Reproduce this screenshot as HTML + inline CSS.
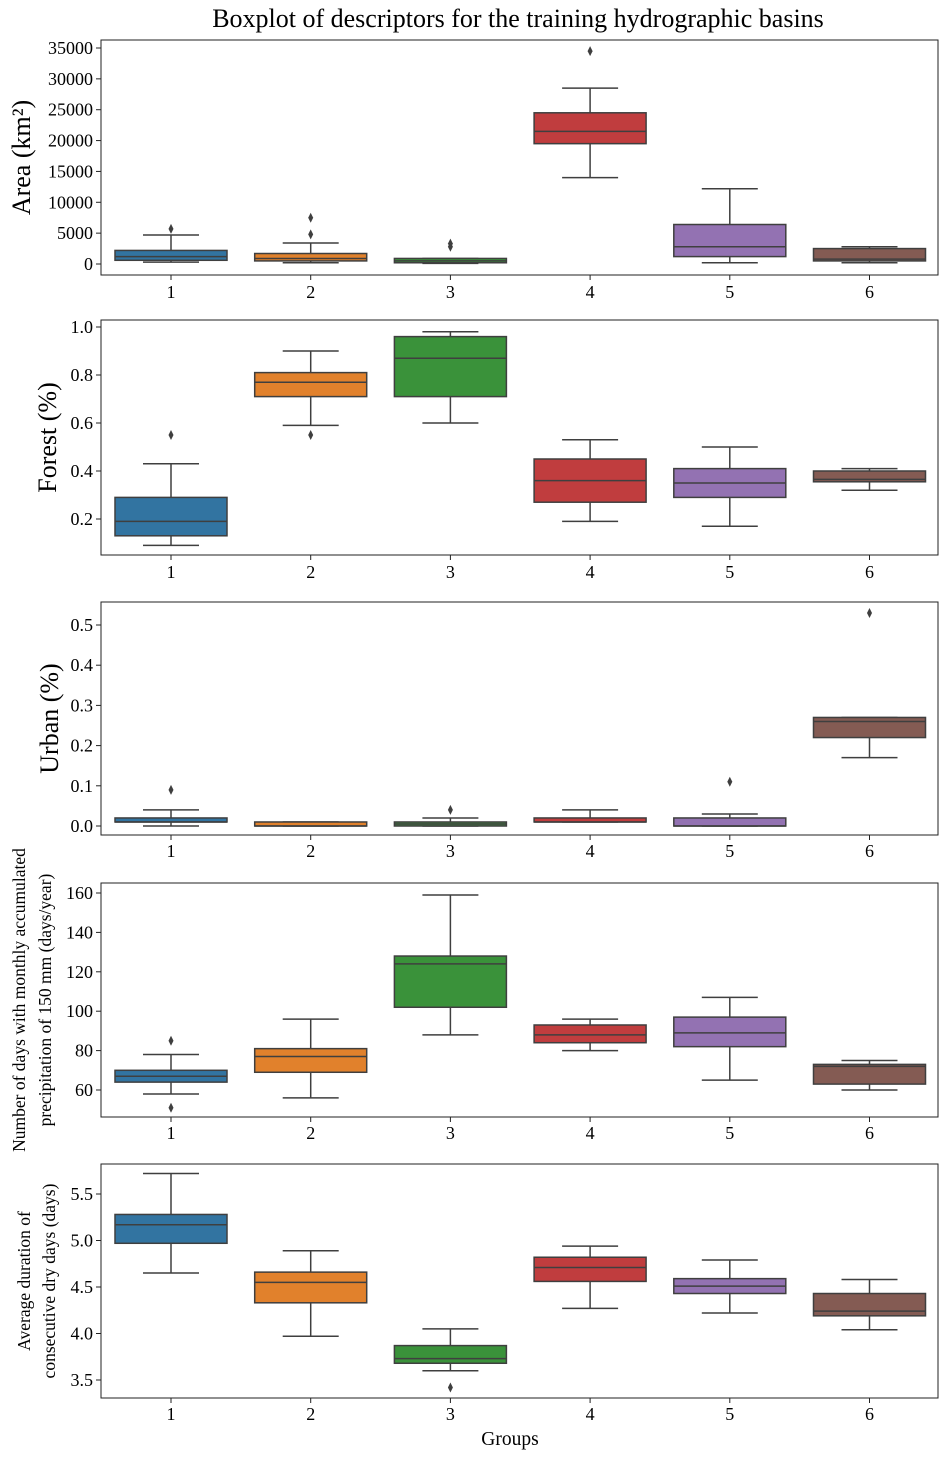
<!DOCTYPE html>
<html><head><meta charset="utf-8"><style>
body{margin:0;background:#fff}
svg{display:block;font-family:"Liberation Serif",serif}
</style></head><body>
<svg id="c" width="947" height="1457"></svg>
<script>
const groups=["1","2","3","4","5","6"];
const colors=["#3274a1","#e1812c","#3a923a","#c03d3e","#9372b2","#845b53"];
// each: [lo, q1, med, q3, hi]
const areaStats=[[300,600,1200,2200,4700],[200,500,900,1700,3400],[100,200,500,900,900],[14000,19500,21500,24500,28500],[200,1200,2800,6400,12200],[200,500,800,2500,2800]];
const areaOut=[[5700],[4800,7500],[2800,3300],[34500],[],[]];
const forestStats=[[.09,.13,.19,.29,.43],[.59,.71,.77,.81,.90],[.60,.71,.87,.96,.98],[.19,.27,.36,.45,.53],[.17,.29,.35,.41,.50],[.32,.355,.365,.40,.41]];
const forestOut=[[.55],[.55],[],[],[],[]];
const urbanStats=[[0,.01,.01,.02,.04],[0,0,0,.01,.01],[0,0,.005,.01,.02],[.01,.01,.01,.02,.04],[0,0,0,.02,.03],[.17,.22,.26,.27,.27]];
const urbanOut=[[.09],[],[.04],[],[.11],[.53]];
const precStats=[[58,64,67,70,78],[56,69,77,81,96],[88,102,124,128,159],[80,84,88,93,96],[65,82,89,97,107],[60,63,72,73,75]];
const precOut=[[51,85],[],[],[],[],[]];
const dryStats=[[4.65,4.97,5.17,5.28,5.72],[3.97,4.33,4.55,4.66,4.89],[3.6,3.68,3.73,3.87,4.05],[4.27,4.56,4.71,4.82,4.94],[4.22,4.43,4.51,4.59,4.79],[4.04,4.19,4.24,4.43,4.58]];
const dryOut=[[],[],[3.42],[],[],[]];
const areaTicks=[0,5000,10000,15000,20000,25000,30000,35000];
const forestTicks=[0.2,0.4,0.6,0.8,1.0];
const urbanTicks=[0.0,0.1,0.2,0.3,0.4,0.5];
const precTicks=[60,80,100,120,140,160];
const dryTicks=[3.5,4.0,4.5,5.0,5.5];

const NS="http://www.w3.org/2000/svg";
const svg=document.getElementById('c');
function el(t,a,p){const e=document.createElementNS(NS,t);for(const k in a)e.setAttribute(k,a[k]);(p||svg).appendChild(e);return e;}
const X0=101,X1=938;
function xs(i){return 171+i*139.7;}
const panels=[
 {name:'area',top:40,bot:275,v0:0,p0:264,v1:35000,p1:48,ticks:areaTicks,fmt:v=>String(v),stats:areaStats,out:areaOut,labels:[{t:'Area  (km²)',x:30,size:26}],xl:292},
 {name:'forest',top:320,bot:555,v0:0.2,p0:519,v1:1.0,p1:327,ticks:forestTicks,fmt:v=>v.toFixed(1),stats:forestStats,out:forestOut,labels:[{t:'Forest  (%)',x:56,size:26}],xl:572},
 {name:'urban',top:602,bot:835,v0:0,p0:826,v1:0.5,p1:625,ticks:urbanTicks,fmt:v=>v.toFixed(1),stats:urbanStats,out:urbanOut,labels:[{t:'Urban  (%)',x:58,size:26}],xl:851},
 {name:'precipitation',top:883,bot:1117,v0:60,p0:1090,v1:160,p1:893,ticks:precTicks,fmt:v=>String(v),stats:precStats,out:precOut,labels:[{t:'Number of days with monthly accumulated',x:25,size:17.5},{t:'precipitation of 150 mm (days/year)',x:51,size:17.5}],xl:1133},
 {name:'dry-days',top:1164,bot:1398,v0:3.5,p0:1380,v1:5.5,p1:1194,ticks:dryTicks,fmt:v=>v.toFixed(1),stats:dryStats,out:dryOut,labels:[{t:'Average duration of',x:30,size:17.5},{t:'consecutive dry days (days)',x:55,size:17.5}],xl:1414}
];
panels.forEach(P=>{
 const g=el('g',{});
 
 
 const ys=v=>P.p0+(v-P.v0)*(P.p1-P.p0)/(P.v1-P.v0);
 P.stats.forEach((s,i)=>{
  const cx=xs(i),w=112,c=colors[i];
  const b=el('g',{},g);
  
  
  el('line',{x1:cx,x2:cx,y1:ys(s[0]),y2:ys(s[1]),stroke:'#3f3f3f','stroke-width':1.5},b);
  el('line',{x1:cx,x2:cx,y1:ys(s[3]),y2:ys(s[4]),stroke:'#3f3f3f','stroke-width':1.5},b);
  el('line',{x1:cx-28,x2:cx+28,y1:ys(s[0]),y2:ys(s[0]),stroke:'#3f3f3f','stroke-width':1.5},b);
  el('line',{x1:cx-28,x2:cx+28,y1:ys(s[4]),y2:ys(s[4]),stroke:'#3f3f3f','stroke-width':1.5},b);
  el('rect',{x:cx-w/2,y:ys(s[3]),width:w,height:Math.max(ys(s[1])-ys(s[3]),1),fill:c,stroke:'#3f3f3f','stroke-width':1.5},b);
  el('line',{x1:cx-w/2,x2:cx+w/2,y1:ys(s[2]),y2:ys(s[2]),stroke:'#3f3f3f','stroke-width':1.5},b);
  P.out[i].forEach(o=>{el('path',{d:`M${cx},${ys(o)-5}L${cx+2.5},${ys(o)}L${cx},${ys(o)+5}L${cx-2.5},${ys(o)}Z`,fill:'#3f3f3f'},b);});
 });
 el('rect',{x:X0,y:P.top,width:X1-X0,height:P.bot-P.top,fill:'none',stroke:'#222','stroke-width':1},g);
 P.ticks.forEach(t=>{const y=ys(t);
  el('line',{x1:X0-5,x2:X0,y1:y,y2:y,stroke:'#222'},g);
  const tx=el('text',{x:X0-8,y:y+6,'text-anchor':'end','font-size':18},g);tx.textContent=P.fmt(t);});
 groups.forEach((gname,i)=>{const x=xs(i);
  el('line',{x1:x,x2:x,y1:P.bot,y2:P.bot+5,stroke:'#222'},g);
  const tx=el('text',{x:x,y:P.xl+6,'text-anchor':'middle','font-size':18},g);tx.textContent=gname;});
 const cy=(P.top+P.bot)/2;
 P.labels.forEach(L=>{const t=el('text',{x:L.x,y:cy,'text-anchor':'middle','font-size':L.size,transform:`rotate(-90 ${L.x} ${cy})`},g);
  t.textContent=L.t;});
});
const title=el('text',{x:518,y:27,'text-anchor':'middle','font-size':26});


title.textContent='Boxplot of descriptors for the training hydrographic basins';
const xt=el('text',{x:510,y:1445,'text-anchor':'middle','font-size':19.5});


xt.textContent='Groups';
</script>
</body></html>
